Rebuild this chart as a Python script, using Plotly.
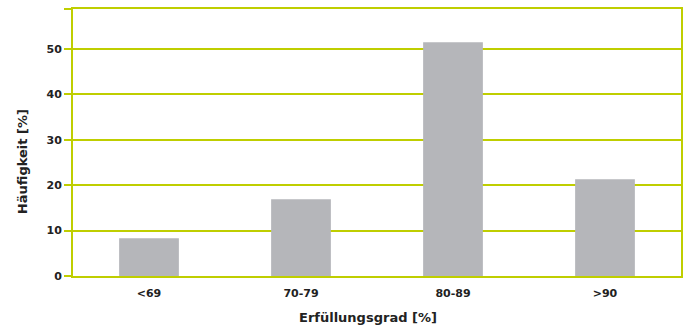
import plotly.graph_objects as go

categories = ["<69", "70-79", "80-89", ">90"]
values = [8.3, 16.9, 51.5, 21.3]
y_ticks = [0, 10, 20, 30, 40, 50]
y_top = 58.8

line_col = "#bfce00"
bar_col = "#b5b6ba"
text_col = "#222222"
font_family = "DejaVu Sans, Liberation Sans, Arial, sans-serif"

fig = go.Figure(
    go.Bar(
        x=categories,
        y=values,
        marker=dict(color=bar_col, line=dict(width=0)),
    )
)

fig.update_layout(
    width=685,
    height=326,
    margin=dict(l=73, r=2, t=9, b=50),
    plot_bgcolor="white",
    paper_bgcolor="white",
    bargap=0.607,
    showlegend=False,
    font=dict(family=font_family, color=text_col),
)

fig.update_xaxes(
    showgrid=False,
    showline=True,
    linecolor=line_col,
    linewidth=2,
    mirror=True,
    ticks="",
    tickfont=dict(size=11, weight="bold", color=text_col),
    ticklabelstandoff=6,
)

fig.update_yaxes(
    range=[0, y_top],
    tickvals=y_ticks + [y_top],
    ticktext=[str(v) for v in y_ticks] + [""],
    showgrid=True,
    gridcolor=line_col,
    gridwidth=2,
    zeroline=False,
    showline=True,
    linecolor=line_col,
    linewidth=2,
    mirror=True,
    ticks="outside",
    ticklen=7,
    tickwidth=2,
    tickcolor=line_col,
    tickfont=dict(size=11, weight="bold", color=text_col),
)

fig.add_annotation(
    text="<b>Erfüllungsgrad [%]</b>",
    xref="paper", yref="paper",
    x=(369 - 73) / 610, y=-41 / 267,
    xanchor="center", yanchor="middle",
    showarrow=False,
    font=dict(size=13, color=text_col, family=font_family),
)
fig.add_annotation(
    text="<b>Häufigkeit [%]</b>",
    xref="paper", yref="paper",
    x=(22 - 73) / 610, y=(276 - 162) / 267,
    xanchor="center", yanchor="middle",
    textangle=-90,
    showarrow=False,
    font=dict(size=13, color=text_col, family=font_family),
)

fig.write_html("out.html")
